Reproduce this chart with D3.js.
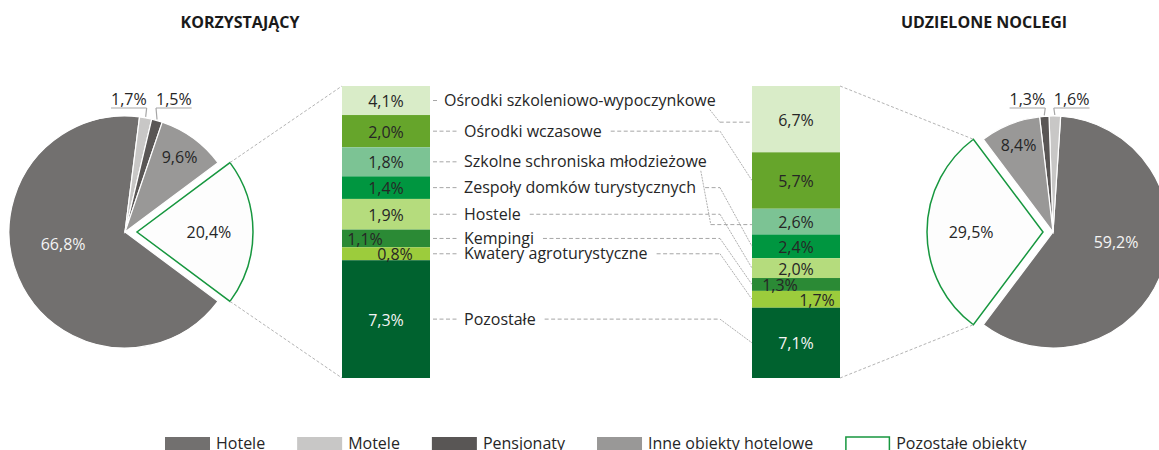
<!DOCTYPE html>
<html>
<head>
<meta charset="utf-8">
<script src="https://cdn.jsdelivr.net/npm/d3@7"></script>
<style>
body { margin: 0; background: #fff; }
svg { display: block; font-family: "Open Sans", sans-serif; }
</style>
</head>
<body>
<div id="chart"></div>
<script>

// pie slices, legend order
var categories = ["Hotele", "Motele", "Pensjonaty", "Inne obiekty hotelowe", "Pozostałe obiekty"];
var korzystajacy = [66.8, 1.7, 1.5, 9.6, 20.4];
var noclegi = [59.2, 1.6, 1.3, 8.4, 29.5];
var pieColors = ["#72706f", "#c8c7c6", "#595655", "#999897", "#fdfdfd"];

// breakdown of "Pozostałe obiekty", top to bottom
var subCategories = ["Ośrodki szkoleniowo-wypoczynkowe", "Ośrodki wczasowe", "Szkolne schroniska młodzieżowe",
                     "Zespoły domków turystycznych", "Hostele", "Kempingi", "Kwatery agroturystyczne", "Pozostałe"];
var subKorzystajacy = [4.1, 2.0, 1.8, 1.4, 1.9, 1.1, 0.8, 7.3];
// left bar as it is drawn in the source: the 4,1% block is only ~1,8 tall
var subKorzystajacyDrawn = [1.8, 2.0, 1.8, 1.4, 1.9, 1.1, 0.8, 7.3];
var subNoclegi = [6.7, 5.7, 2.6, 2.4, 2.0, 1.3, 1.7, 7.1];
var subColors = ["#d9ecc8", "#66a52b", "#7cc394", "#009640", "#b5dc7d", "#2b8a35", "#9ccc3c", "#00622f"];

var titles = ["KORZYSTAJĄCY", "UDZIELONE NOCLEGI"];

var W = 1159, H = 450;
var R = 116;
var barTop = 86, barBottom = 378, barW = 88;
var elbowX = 720;
var textCol = "#262626", lineCol = "#a6a6a6", green = "#17973f";

function fmt(v) {
    return v.toFixed(1).replace(".", ",") + "%";
}

var svg = d3.select("#chart").append("svg").attr("width", W).attr("height", H);

// titles
svg.append("text").attr("x", 240).attr("y", 28).attr("text-anchor", "middle")
    .attr("font-size", 16).attr("font-weight", "bold").attr("fill", "#1a1a1a").text(titles[0]);
svg.append("text").attr("x", 984).attr("y", 28).attr("text-anchor", "middle")
    .attr("font-size", 16).attr("font-weight", "bold").attr("fill", "#1a1a1a").text(titles[1]);

function drawPie(values, cx, cy, dir, centerDeg, explode, hoteleShift) {
    var total = d3.sum(values);
    var a0 = (centerDeg + dir * values[4] / total * 180) * Math.PI / 180;
    var pie = d3.pie().sort(null).startAngle(a0).endAngle(a0 + dir * 2 * Math.PI);
    var arcs = pie(values);
    var arc = d3.arc().innerRadius(0).outerRadius(R);
    var c = centerDeg * Math.PI / 180;
    var ex = explode * Math.sin(c), ey = -explode * Math.cos(c);

    var g = svg.append("g").attr("transform", "translate(" + cx + "," + cy + ")");
    g.selectAll("path").data(arcs).enter().append("path")
        .attr("d", arc)
        .attr("transform", function(d, i) { return i == 4 ? "translate(" + ex + "," + ey + ")" : null; })
        .attr("fill", function(d, i) { return pieColors[i]; })
        .attr("stroke", function(d, i) { return i == 4 ? green : "#fff"; })
        .attr("stroke-width", function(d, i) { return i == 4 ? 1.5 : 1.2; });

    // labels inside the big slices
    var rad = [0.58, 0, 0, 0.8, 0.62];
    [0, 3, 4].forEach(function(i) {
        var d = arcs[i];
        var m = (d.startAngle + d.endAngle) / 2;
        var x = rad[i] * R * Math.sin(m), y = -rad[i] * R * Math.cos(m);
        if (i == 4) { x += ex; y += ey; }
        if (i == 0) { y += hoteleShift; }
        g.append("text").attr("x", x).attr("y", y).attr("dy", "0.35em")
            .attr("text-anchor", "middle").attr("font-size", 16)
            .attr("fill", i == 0 ? "#f4f4f4" : textCol)
            .text(fmt(values[i]));
    });

    // small slices: label above with underline and leader
    var pts = [1, 2].map(function(i) {
        var d = arcs[i];
        var m = (d.startAngle + d.endAngle) / 2;
        return { i: i, x: cx + R * Math.sin(m), y: cy - R * Math.cos(m) };
    });
    pts.forEach(function(p, k) {
        var other = pts[1 - k];
        var toLeft = p.x < other.x;
        var t = svg.append("text").attr("y", 105).attr("font-size", 16).attr("fill", textCol)
            .text(fmt(values[p.i]));
        var w = t.node().getComputedTextLength();
        var x0 = toLeft ? p.x + 1 - w : p.x - 1;
        t.attr("x", x0);
        var ux = toLeft ? p.x + 1 : p.x - 1;
        svg.append("path")
            .attr("d", "M" + x0 + "," + 108 + "H" + (x0 + w) + "M" + ux + ",108L" + p.x + "," + (p.y - 1))
            .attr("fill", "none").attr("stroke", lineCol).attr("stroke-width", 1.2);
    });

    // corners of the exploded slice, upper first
    var d4 = arcs[4];
    var corners = [d4.startAngle, d4.endAngle].map(function(a) {
        return [cx + ex + R * Math.sin(a), cy + ey - R * Math.cos(a)];
    }).sort(function(a, b) { return a[1] - b[1]; });
    return corners;
}

function drawBar(x, drawn, values, nudges) {
    var y = d3.scaleLinear().domain([0, d3.sum(drawn)]).range([barTop, barBottom]);
    var acc = 0;
    var segs = drawn.map(function(v, i) {
        var s = { i: i, y0: y(acc), y1: y(acc + v) };
        s.mid = (s.y0 + s.y1) / 2;
        acc += v;
        return s;
    });
    var g = svg.append("g");
    g.selectAll("rect").data(segs).enter().append("rect")
        .attr("x", x).attr("width", barW)
        .attr("y", function(d) { return d.y0; })
        .attr("height", function(d) { return d.y1 - d.y0; })
        .attr("fill", function(d) { return subColors[d.i]; });
    g.selectAll("text").data(segs).enter().append("text")
        .attr("x", function(d) { return x + barW / 2 + (nudges[d.i] || 0); })
        .attr("y", function(d) { return d.mid + 1; })
        .attr("dy", "0.35em").attr("text-anchor", "middle").attr("font-size", 16)
        .attr("fill", function(d) { return d.i == 7 ? "#f4f4f4" : textCol; })
        .text(function(d) { return fmt(values[d.i]); });
    return segs;
}

var leftCorners = drawPie(korzystajacy, 125, 232, 1, 90, 12, -14);
var rightCorners = drawPie(noclegi, 1053, 232, -1, 270, 10, -13);

var leftBarX = 342, rightBarX = 752;
var leftSegs = drawBar(leftBarX, subKorzystajacyDrawn, subKorzystajacy, { 5: -21, 6: 9 });
var rightSegs = drawBar(rightBarX, subNoclegi, subNoclegi, { 5: -16, 6: 21 });

// pie -> bar connectors
var conn = [
    [leftCorners[0], [leftBarX, barTop]], [leftCorners[1], [leftBarX, barBottom]],
    [[rightBarX + barW, barTop], rightCorners[0]], [[rightBarX + barW, barBottom], rightCorners[1]]
];
svg.selectAll(".conn").data(conn).enter().append("line")
    .attr("x1", function(d) { return d[0][0]; }).attr("y1", function(d) { return d[0][1]; })
    .attr("x2", function(d) { return d[1][0]; }).attr("y2", function(d) { return d[1][1]; })
    .attr("stroke", "#b4b4b4").attr("stroke-width", 1).attr("stroke-dasharray", "3,2");

// middle labels with leaders to both bars
subCategories.forEach(function(name, i) {
    var ly = leftSegs[i].mid;
    var ry = rightSegs[i].mid;
    var lx = i == 0 ? 444 : 464;
    var t = svg.append("text").attr("x", lx).attr("y", ly).attr("dy", "0.35em")
        .attr("font-size", 16).attr("fill", textCol).text(name);
    var end = lx + t.node().getComputedTextLength();

    svg.append("line").attr("x1", leftBarX + barW + 3).attr("x2", lx - 5)
        .attr("y1", ly).attr("y2", ly)
        .attr("stroke", lineCol).attr("stroke-width", 1).attr("stroke-dasharray", "4,2.5");

    if (end + 9 < elbowX - 5) {
        svg.append("line").attr("x1", end + 9).attr("x2", elbowX).attr("y1", ly).attr("y2", ly)
            .attr("stroke", lineCol).attr("stroke-width", 1).attr("stroke-dasharray", "4,2.5");
        svg.append("line").attr("x1", elbowX).attr("y1", ly).attr("x2", rightBarX).attr("y2", ry)
            .attr("stroke", "#9a9a9a").attr("stroke-width", 0.8).attr("stroke-dasharray", "2,1");
    } else {
        svg.append("line").attr("x1", end - 6).attr("y1", ly + 9).attr("x2", end + 4).attr("y2", ry + 3)
            .attr("stroke", "#9a9a9a").attr("stroke-width", 0.8).attr("stroke-dasharray", "2,1");
        svg.append("line").attr("x1", end + 4).attr("x2", rightBarX).attr("y1", ry + 3).attr("y2", ry + 3)
            .attr("stroke", lineCol).attr("stroke-width", 1).attr("stroke-dasharray", "4,2.5");
    }
});

// legend
var lx = 165;
categories.forEach(function(name, i) {
    svg.append("rect").attr("x", i == 4 ? lx + 0.75 : lx).attr("y", 437)
        .attr("width", i == 4 ? 43.5 : 45).attr("height", 16)
        .attr("fill", i == 4 ? "#fff" : pieColors[i])
        .attr("stroke", i == 4 ? green : "none").attr("stroke-width", 1.5);
    var t = svg.append("text").attr("x", lx + 51).attr("y", 449)
        .attr("font-size", 16).attr("fill", textCol).text(name);
    lx += 51 + t.node().getComputedTextLength() + 32;
});

</script>
</body>
</html>
